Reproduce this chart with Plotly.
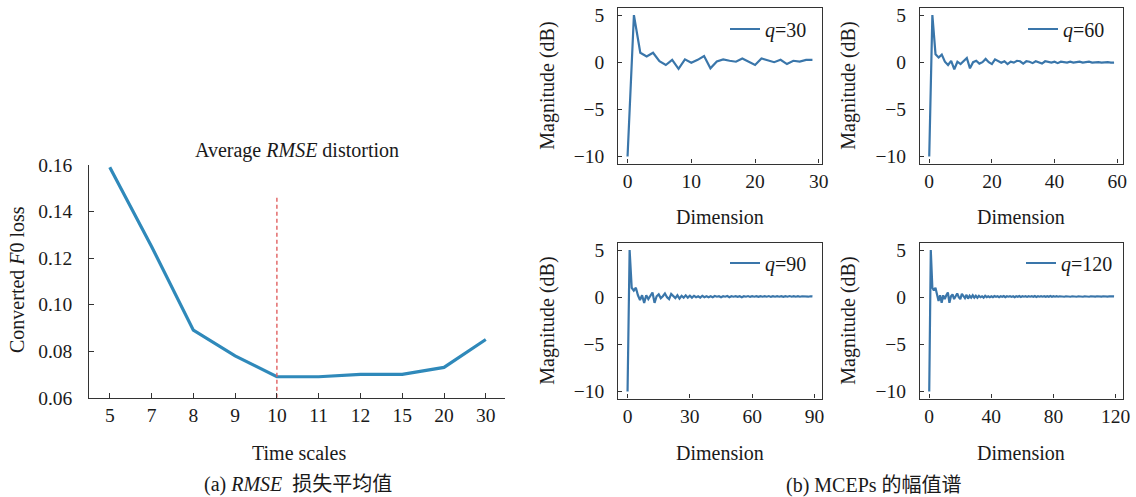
import plotly.graph_objects as go

W, H = 1136, 497

# ---------------- data ----------------
time_scales = ["5", "7", "8", "9", "10", "11", "12", "15", "20", "30"]
f0_loss = [0.159, 0.125, 0.089, 0.078, 0.069, 0.069, 0.070, 0.070, 0.073, 0.085]
best_scale_index = 4
best_line_top = 0.146

mcep_q30 = [-10, 5, 1.0, 0.6, 1.0, 0.1, -0.3, 0.25, -0.7, 0.3, -0.05, 0.25, 0.65, -0.65,
            0.07, 0.3, 0.15, 0.05, 0.4, 0.07, -0.3, 0.4, 0.2, 0.0, 0.25, -0.2, 0.15, 0.07,
            0.25, 0.25]

mcep_q60 = [-10, 5, 0.85, 0.5, 0.8, 0.05, -0.3, 0.15, -0.75, 0.05, -0.2, 0.1, 0.45, -0.65,
            0.0, 0.15, -0.15, 0.0, 0.35, 0.0, -0.2, 0.3, 0.15, -0.05, 0.1, -0.2,
            0.05, -0.05, 0.15, 0.1, -0.15, 0.1, 0.05, -0.1, 0.1, 0.0, -0.15, 0.1, 0.05,
            -0.05, 0.05, -0.1, 0.05, 0.0, -0.05, 0.05, -0.05, 0.0, 0.05, -0.05, 0.0, 0.05,
            -0.05, 0.0, 0.0, -0.05, 0.0, 0.0, -0.05, -0.05]

mcep_q90 = [-10, 5, 1.0, 0.7, 1.0, 0.2, -0.3, 0.2, -0.6, 0.2, -0.2, 0.1, 0.5, -0.6, 0.1,
            0.3, -0.1, 0.1, 0.4, 0.0, -0.2, 0.35, 0.15, -0.1, 0.2, -0.15, 0.15, -0.05,
            0.2, -0.05, 0.15, -0.05, 0.15, 0.0, 0.1, -0.05, 0.15, 0.0, 0.1, 0.0, 0.1, 0.0,
            0.12, 0.05, 0.1, 0.0, 0.1, 0.05, 0.12, 0.0, 0.1, 0.05, 0.1, 0.03, 0.1, 0.0,
            0.1, 0.05, 0.12, 0.03, 0.1, 0.05, 0.1, 0.03, 0.1, 0.05, 0.1, 0.05, 0.12, 0.03,
            0.1, 0.05, 0.1, 0.05, 0.1, 0.04, 0.1, 0.05, 0.12, 0.05, 0.1, 0.05, 0.1, 0.05,
            0.1, 0.06, 0.1, 0.05, 0.1, 0.08]

mcep_q120 = [-10, 5, 1.0, 0.7, 1.0, 0.2, -0.4, 0.2, -0.6, 0.2, -0.2, 0.2, 0.5, -0.6, 0.1,
             0.3, -0.2, 0.1, 0.4, 0.0, -0.2, 0.35, 0.1, -0.1, 0.25, -0.15, 0.15, -0.05,
             0.2, -0.05, 0.15, -0.05, 0.15, 0.0, 0.1, -0.05, 0.15, 0.0, 0.1, 0.0, 0.1,
             0.0, 0.12, 0.05, 0.1, 0.0, 0.1, 0.05, 0.12, 0.0, 0.1, 0.05, 0.1, 0.03, 0.1,
             0.0, 0.1, 0.05, 0.12, 0.03, 0.1, 0.05, 0.1, 0.03, 0.1, 0.05, 0.1, 0.05, 0.12,
             0.03, 0.1, 0.05, 0.1, 0.05, 0.1, 0.04, 0.1, 0.05, 0.12, 0.05, 0.1, 0.05, 0.1,
             0.05, 0.1, 0.06, 0.1, 0.05, 0.1, 0.06, 0.1, 0.05, 0.1, 0.06, 0.1, 0.05, 0.1,
             0.06, 0.1, 0.05, 0.1, 0.06, 0.1, 0.05, 0.1, 0.06, 0.1, 0.06, 0.1, 0.06, 0.1,
             0.06, 0.1, 0.06, 0.1, 0.06, 0.1, 0.07, 0.1, 0.08]

panels = [
    ("q=30", mcep_q30, [0, 10, 20, 30]),
    ("q=60", mcep_q60, [0, 20, 40, 60]),
    ("q=90", mcep_q90, [0, 30, 60, 90]),
    ("q=120", mcep_q120, [0, 40, 80, 120]),
]

# ---------------- styling ----------------
FONT = "Liberation Serif, Times New Roman, Noto Sans CJK SC, serif"
TXT = "#1a1a1a"
AX = "#333333"
LEFT_COLOR = "#2f89ba"
RIGHT_COLOR = "#3a76aa"
FS = 19.5
FT = 20


def px(x):
    return x / W


def py(y):
    return 1 - y / H


fig = go.Figure()

# left chart
fig.add_trace(go.Scatter(x=list(range(len(time_scales))), y=f0_loss, mode="lines",
                         line=dict(color=LEFT_COLOR, width=3.2), showlegend=False,
                         xaxis="x", yaxis="y"))
fig.add_trace(go.Scatter(x=[best_scale_index, best_scale_index], y=[0.06, best_line_top],
                         mode="lines", line=dict(color="#e06060", width=1.4, dash="4px,3px"),
                         showlegend=False, xaxis="x", yaxis="y"))

layout = dict(
    template="none",
    width=W, height=H, margin=dict(l=0, r=0, t=0, b=0, autoexpand=False),
    paper_bgcolor="white", plot_bgcolor="white",
    font=dict(family=FONT, size=FS, color=TXT),
    xaxis=dict(domain=[px(89.3), px(505)], range=[-0.49, 9.46],
               tickvals=list(range(len(time_scales))), ticktext=time_scales,
               showline=True, linecolor=AX, linewidth=1.3, ticks="inside", ticklen=5,
               tickcolor=AX, showgrid=False, zeroline=False, anchor="y",
               automargin=False, tickfont=dict(size=FS)),
    yaxis=dict(domain=[py(397.7), py(165)], range=[0.06, 0.16],
               tickvals=[0.06, 0.08, 0.10, 0.12, 0.14, 0.16], tickformat=".2f",
               showline=True, linecolor=AX, linewidth=1.3, ticks="inside", ticklen=5,
               tickcolor=AX, showgrid=False, zeroline=False, anchor="x",
               automargin=False, ticklabelstandoff=12, tickfont=dict(size=FS)),
)

# right panels
boxes = [
    (618.3, 821.7, 8.0, 163.5),
    (920.0, 1123.3, 8.0, 163.5),
    (618.3, 821.7, 243.0, 398.5),
    (920.0, 1123.3, 243.0, 398.5),
]
legend_pos = [(812, 29), (1110, 29), (812, 263), (1118, 263)]

for i, ((name, vals, xt), (x0, x1, y0, y1), (lx, ly)) in enumerate(zip(panels, boxes, legend_pos)):
    k = i + 2
    n = len(vals)
    margin = 0.05 * (n - 1)
    lg = "legend" if i == 0 else f"legend{i + 1}"
    fig.add_trace(go.Scatter(x=list(range(n)), y=vals, mode="lines",
                             line=dict(color=RIGHT_COLOR, width=2.2),
                             name="<i>q</i>=" + name.split("=")[1],
                             showlegend=True, legend=lg,
                             xaxis=f"x{k}", yaxis=f"y{k}"))
    layout[f"xaxis{k}"] = dict(domain=[px(x0), px(x1)], range=[-margin, n - 1 + margin],
                               tickvals=xt, showline=True, mirror=True, linecolor=AX,
                               linewidth=1.3, ticks="inside", ticklen=4, tickcolor=AX,
                               showgrid=False, zeroline=False, anchor=f"y{k}",
                               automargin=False, tickfont=dict(size=FS))
    layout[f"yaxis{k}"] = dict(domain=[py(y1), py(y0)], range=[-10.75, 5.75],
                               tickvals=[-10, -5, 0, 5], showline=True, mirror=True,
                               linecolor=AX, linewidth=1.3, ticks="inside", ticklen=4,
                               tickcolor=AX, showgrid=False, zeroline=False,
                               anchor=f"x{k}", ticklabelstandoff=9, automargin=False,
                               tickfont=dict(size=FS))
    layout[lg] = dict(x=px(lx), y=py(ly), xanchor="right", yanchor="middle",
                      bgcolor="rgba(0,0,0,0)", borderwidth=0,
                      font=dict(family=FONT, size=FT, color=TXT),
                      itemwidth=30, tracegroupgap=0)

fig.update_layout(**layout)

# text annotations (titles, axis titles, captions)
notes = [
    ("Average <i>RMSE</i> distortion", 297, 150.7, 0),
    ("Converted <i>F</i>0 loss", 17, 280, -90),
    ("Time scales", 299, 452.7, 0),
    ("(a) <i>RMSE</i>  损失平均值", 297.5, 484, 0),
    ("(b) MCEPs 的幅值谱", 874, 485, 0),
    ("Magnitude (dB)", 548, 85.7, -90),
    ("Magnitude (dB)", 849, 85.7, -90),
    ("Magnitude (dB)", 548, 320.7, -90),
    ("Magnitude (dB)", 849, 320.7, -90),
    ("Dimension", 719.5, 216.7, 0),
    ("Dimension", 1020.8, 216.7, 0),
    ("Dimension", 719.5, 453.3, 0),
    ("Dimension", 1020.8, 453.3, 0),
]
for text, x, y, ang in notes:
    fig.add_annotation(text=text, x=px(x), y=py(y), xref="paper", yref="paper",
                       xanchor="center", yanchor="middle", showarrow=False,
                       textangle=ang, font=dict(family=FONT, size=FT, color=TXT))

fig.write_html(
    "out.html",
    config={"displayModeBar": False},
    post_script="document.body.style.margin='0';document.body.style.padding='0';"
                "document.body.style.overflow='hidden';",
)
